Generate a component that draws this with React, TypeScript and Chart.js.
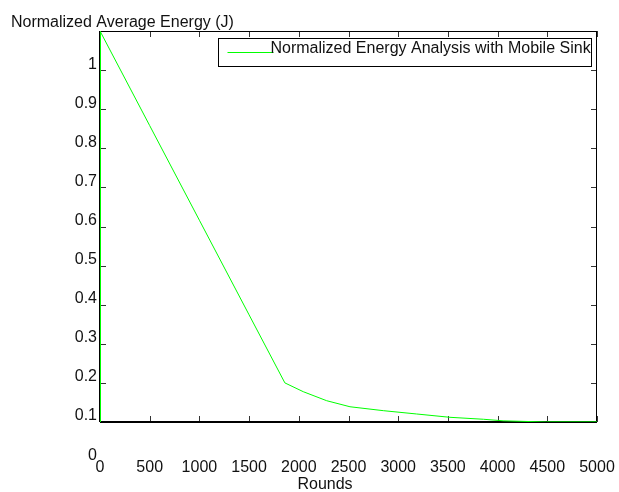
import React, { useEffect, useRef } from "react";
import { Chart, registerables } from "chart.js";

Chart.register(...registerables);

// Data
const rounds = [0, 0, 500, 1000, 1500, 1860, 2045, 2280, 2515, 2850, 3186, 3521, 3857, 4055, 4494, 5000];
const energy = [0, 1.1, 0.858, 0.616, 0.374, 0.2, 0.1775, 0.1545, 0.139, 0.129, 0.1205, 0.112, 0.107, 0.103, 0.1, 0.1];

const seriesLabel = "Normalized Energy Analysis with Mobile Sink";
const yTitle = "Normalized Average Energy (J)";
const xTitle = "Rounds";
const strayLabel = "0";

const FONT = "16px 'Liberation Sans', Arial, sans-serif";

const matlabPlugin = {
  id: "matlabDecor",
  beforeDatasetsDraw(chart: any) {
    const { ctx, chartArea } = chart;
    const { left, right, top, bottom } = chartArea;
    const xs = chart.scales.x;
    const ys = chart.scales.y;
    ctx.save();
    // inward ticks
    ctx.strokeStyle = "#333";
    ctx.lineWidth = 1;
    ctx.beginPath();
    xs.ticks.forEach((t: any) => {
      const px = Math.round(xs.getPixelForValue(t.value)) + 0.5;
      ctx.moveTo(px, bottom);
      ctx.lineTo(px, bottom - 6);
      ctx.moveTo(px, top);
      ctx.lineTo(px, top + 6);
    });
    ys.ticks.forEach((t: any) => {
      const py = Math.round(ys.getPixelForValue(t.value)) + 0.5;
      ctx.moveTo(left, py);
      ctx.lineTo(left + 6, py);
      ctx.moveTo(right, py);
      ctx.lineTo(right - 6, py);
    });
    ctx.stroke();
    // frame
    ctx.strokeStyle = "#000";
    ctx.lineWidth = 1;
    ctx.beginPath();
    ctx.moveTo(left, top + 0.5);
    ctx.lineTo(right, top + 0.5);
    ctx.moveTo(right - 0.5, top);
    ctx.lineTo(right - 0.5, bottom);
    ctx.stroke();
    ctx.lineWidth = 2;
    ctx.beginPath();
    ctx.moveTo(left, bottom);
    ctx.lineTo(right, bottom);
    ctx.moveTo(left, top);
    ctx.lineTo(left, bottom);
    ctx.stroke();
    ctx.restore();
  },
  afterDraw(chart: any) {
    const { ctx, chartArea } = chart;
    const { left, top, bottom } = chartArea;
    ctx.save();
    ctx.font = FONT;
    ctx.fillStyle = "#111";
    ctx.textBaseline = "alphabetic";
    // y title (horizontal, top-left)
    ctx.textAlign = "left";
    ctx.fillText(yTitle, 11, top - 4);
    // stray zero label
    ctx.fillText(strayLabel, left - 12, bottom + 38);
    // x title
    ctx.textAlign = "center";
    ctx.fillText(xTitle, left + 225, bottom + 67);
    // legend
    const lx = 218.5, ly = top + 7.5, lw = 373, lh = 28;
    ctx.fillStyle = "#fff";
    ctx.fillRect(lx, ly, lw, lh);
    ctx.strokeStyle = "#000";
    ctx.lineWidth = 1;
    ctx.strokeRect(lx, ly, lw, lh);
    ctx.strokeStyle = "#00ff00";
    ctx.beginPath();
    ctx.moveTo(lx + 9, ly + 14);
    ctx.lineTo(lx + 55, ly + 14);
    ctx.stroke();
    ctx.fillStyle = "#111";
    ctx.textAlign = "left";
    ctx.fillText(seriesLabel, lx + 52, ly + 14);
    ctx.restore();
  },
};

export default function App() {
  const ref = useRef<HTMLCanvasElement>(null);
  useEffect(() => {
    if (!ref.current) return;
    const chart = new Chart(ref.current, {
      type: "line",
      data: {
        datasets: [
          {
            label: seriesLabel,
            data: rounds.map((r, i) => ({ x: r, y: energy[i] })),
            borderColor: "#00ff00",
            backgroundColor: "#00ff00",
            borderWidth: 1,
            pointRadius: 0,
            tension: 0,
            fill: false,
            segment: {
              borderWidth: (c: any) =>
                c.p0.parsed.x === c.p1.parsed.x ||
                (c.p0.parsed.y <= 0.1 && c.p1.parsed.y <= 0.1)
                  ? 2
                  : 1,
              borderColor: (c: any) =>
                c.p0.parsed.y <= 0.1 && c.p1.parsed.y <= 0.1 ? "#00a000" : "#00ff00",
            },
          },
        ],
      },
      options: {
        responsive: false,
        animation: false,
        layout: { padding: { left: 0, top: 31, right: 22, bottom: 0 } },
        plugins: { legend: { display: false }, tooltip: { enabled: false } },
        scales: {
          x: {
            type: "linear",
            min: 0,
            max: 5000,
            grid: { display: false, drawTicks: false },
            border: { display: false },
            ticks: {
              stepSize: 500,
              padding: 36,
              maxRotation: 0,
              autoSkip: false,
              color: "#111",
              font: { family: "'Liberation Sans', Arial, sans-serif", size: 16 },
              callback: (v: any) => String(v),
            },
            afterFit: (s: any) => {
              s.height = 70;
              s.paddingLeft = 0;
              s.paddingRight = 0;
            },
          },
          y: {
            type: "linear",
            min: 0.1,
            max: 1.1,
            grid: { display: false, drawTicks: false },
            border: { display: false },
            ticks: {
              stepSize: 0.1,
              padding: 3,
              labelOffset: -6,
              autoSkip: false,
              color: "#111",
              font: { family: "'Liberation Sans', Arial, sans-serif", size: 16 },
              callback: (v: any) => {
                const n = Number(v);
                if (n > 1.05) return "";
                return String(parseFloat(n.toFixed(1)));
              },
            },
            afterFit: (s: any) => {
              s.width = 100;
              s.paddingTop = 0;
              s.paddingBottom = 0;
            },
          },
        },
      },
      plugins: [matlabPlugin],
    });
    return () => chart.destroy();
  }, []);
  return (
    <div style={{ position: "absolute", left: 0, top: 0, width: 619, height: 492, background: "#fff" }}>
      <canvas ref={ref} width={619} height={492} />
    </div>
  );
}
